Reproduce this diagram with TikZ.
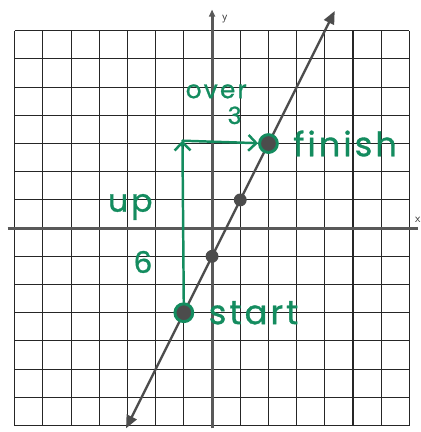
\documentclass[tikz,border=0pt]{standalone}
\usepackage{fontspec}
\newfontfamily\handfont[LetterSpace=9, FakeBold=1]{Poppins}
\usetikzlibrary{arrows.meta,positioning}
\definecolor{pen}{RGB}{20,140,95}

\begin{document}
\begin{tikzpicture}[x=1cm, y=1cm, thick]
    % Styles
    \tikzstyle{gridline}=[line width=1.1pt, draw=black!85]
    \tikzstyle{axis}=[line width=3pt, draw=black!65]
    \tikzstyle{graph}=[line width=2.4pt, draw=black!70, {Triangle[length=13pt,width=11pt]}-{Triangle[length=13pt,width=11pt]}]
    \tikzstyle{dot}=[circle, fill=black!70, inner sep=0pt, minimum size=13pt]
    \tikzstyle{bigdot}=[circle, fill=black!70, draw=pen, line width=3pt, inner sep=0pt, minimum size=18pt]
    \tikzstyle{greenarrow}=[line width=2.5pt, draw=pen, line cap=round, -{Straight Barb[length=8pt,width=16pt]}]
    \tikzstyle{hand}=[text=pen, font=\handfont\fontsize{#1}{#1}\selectfont, inner sep=0pt]
    \tikzstyle{axislabel}=[font=\sffamily\large, text=black!80, inner sep=0pt]

    \useasboundingbox (-7.52,-7.23) rectangle (7.38,8.09);

    % Grid and axes
    \draw[gridline] (-7,-7) grid (7,7);
    \draw[axis] (-7.25,0) -- (7.3,0);
    \draw[axis, -{Triangle[length=7pt,width=6pt]}] (0,-7.1) -- (0,7.75);
    \node (xlabel) [axislabel] at (7.3,0.3) {x};
    \node (ylabel) [axislabel] at (0.45,7.4) {y};

    % Line y = 2x - 1
    \coordinate (low) at (-3.05,-7.1);
    \coordinate (high) at (4.35,7.7);
    \draw[graph] (low) -- (high);

    % Points
    \node (yint) [dot] at (0,-1) {};
    \node (mid) [dot] at (1,1) {};
    \node (start) [bigdot] at (-1,-3) {};
    \node (finish) [bigdot] at (2,3) {};
    \coordinate (turn) at (-1.05,3.1);

    % Rise and run
    \draw[greenarrow] (start) -- (turn);
    \draw[greenarrow] (turn) -- (finish);

    % Labels
    \node (over) [hand=25] at (0.15,4.85) {over};
    \node (run) [hand=24] at (0.8,4.0) {3};
    \node (up) [hand=32] at (-2.9,0.75) {up};
    \node (rise) [hand=30] at (-2.45,-1.2) {6};
    \node (finishlabel) [hand=34, right=0.5cm of finish] {finish};
    \node (startlabel) [hand=34, right=0.5cm of start] {start};
\end{tikzpicture}
\end{document}
